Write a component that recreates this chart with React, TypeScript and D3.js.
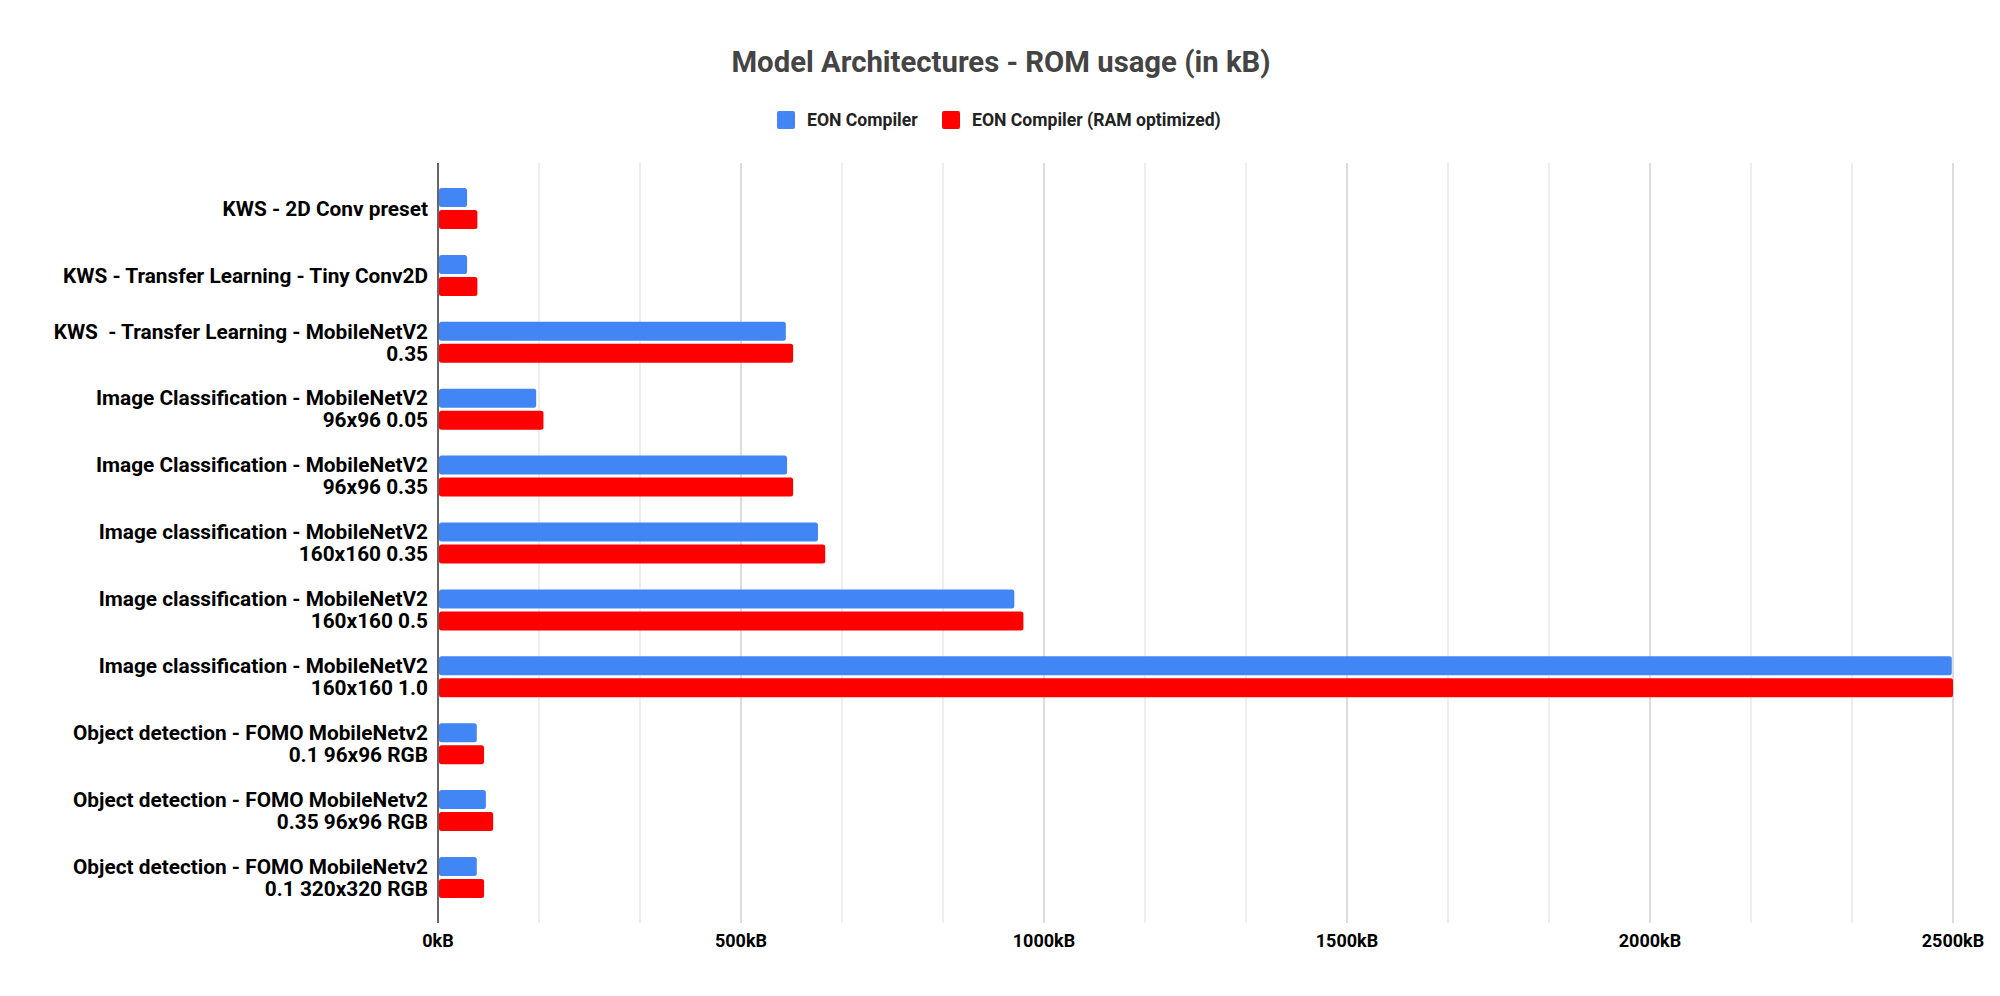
import { useEffect, useRef } from "react";
import * as d3 from "d3";

const categories: string[][] = [
  ["KWS - 2D Conv preset"],
  ["KWS - Transfer Learning - Tiny Conv2D"],
  ["KWS  - Transfer Learning - MobileNetV2", "0.35"],
  ["Image Classification - MobileNetV2", "96x96 0.05"],
  ["Image Classification - MobileNetV2", "96x96 0.35"],
  ["Image classification - MobileNetV2", "160x160 0.35"],
  ["Image classification - MobileNetV2", "160x160 0.5"],
  ["Image classification - MobileNetV2", "160x160 1.0"],
  ["Object detection - FOMO MobileNetv2", "0.1 96x96 RGB"],
  ["Object detection - FOMO MobileNetv2", "0.35 96x96 RGB"],
  ["Object detection - FOMO MobileNetv2", "0.1 320x320 RGB"],
];

const seriesNames = ["EON Compiler", "EON Compiler (RAM optimized)"];
const seriesColors = ["#4285f4", "#ff0000"];

const eonValues = [48, 48, 574, 162, 576, 627, 951, 2498, 64, 79, 64];
const eonRamValues = [65, 65, 586, 174, 586, 639, 966, 2500, 76, 91, 76];

const xTicks = [0, 500, 1000, 1500, 2000, 2500];

export default function App() {
  const ref = useRef<SVGSVGElement>(null);

  useEffect(() => {
    document.body.style.margin = "0";
    const svg = d3.select(ref.current);
    svg.selectAll("*").remove();

    const width = 2000;
    const height = 996;
    const left = 438;
    const right = 1953;
    const top = 163;
    const bottom = 923;
    const font = "Roboto, 'Noto Sans', sans-serif";

    svg.attr("width", width).attr("height", height);
    svg.append("rect").attr("width", width).attr("height", height).attr("fill", "#fff");

    const ids = categories.map((_, i) => String(i));
    const x = d3.scaleLinear().domain([0, 2500]).range([left, right]);
    const y0 = d3.scaleBand().domain(ids).range([top, bottom]).paddingOuter(0.18);
    const y1 = d3
      .scaleBand()
      .domain(seriesNames)
      .range([y0.bandwidth() / 2 - 20.5, y0.bandwidth() / 2 + 20.5])
      .paddingInner(0.136);

    // gridlines: major every 500kB, minor every third of that
    const grid = d3.range(0, 2501, 500 / 3);
    svg
      .append("g")
      .selectAll("line")
      .data(grid)
      .enter()
      .append("line")
      .attr("x1", (d) => x(d))
      .attr("x2", (d) => x(d))
      .attr("y1", top)
      .attr("y2", bottom)
      .attr("stroke", (d, i) => (i % 3 === 0 ? "#d0d0d0" : "#e8e8e8"))
      .attr("stroke-width", 1.5);

    // title
    svg
      .append("text")
      .attr("x", 1001)
      .attr("y", 72)
      .attr("text-anchor", "middle")
      .style("font-family", font)
      .style("font-weight", "bold")
      .style("font-size", "29.3px")
      .attr("fill", "#444")
      .text("Model Architectures - ROM usage (in kB)");

    // legend
    const legendX = [777, 942];
    const legend = svg
      .append("g")
      .selectAll("g")
      .data(seriesNames)
      .enter()
      .append("g")
      .attr("transform", (_, i) => `translate(${legendX[i]},111)`);
    legend
      .append("rect")
      .attr("width", 18)
      .attr("height", 18)
      .attr("rx", 2)
      .attr("fill", (_, i) => seriesColors[i]);
    legend
      .append("text")
      .attr("x", 30)
      .attr("y", 15)
      .style("font-family", font)
      .style("font-weight", "bold")
      .style("font-size", "17.6px")
      .attr("fill", "#222")
      .text((d) => d);

    // bars
    const rows = svg
      .append("g")
      .selectAll("g")
      .data(ids)
      .enter()
      .append("g")
      .attr("transform", (d) => `translate(0,${y0(d)})`);

    rows
      .selectAll("rect")
      .data((_, i) => [eonValues[i], eonRamValues[i]])
      .enter()
      .append("rect")
      .attr("x", x(0) + 1)
      .attr("y", (_, j) => y1(seriesNames[j])!)
      .attr("width", (d) => x(d) - x(0) - 1)
      .attr("height", y1.bandwidth())
      .attr("rx", 2.5)
      .attr("fill", (_, j) => seriesColors[j]);

    // category labels
    const lineH = 22;
    rows
      .append("text")
      .attr("text-anchor", "end")
      .style("font-family", font)
      .style("font-weight", "bold")
      .style("font-size", "20.8px")
      .style("white-space", "pre")
      .attr("fill", "#000")
      .each(function (_, i) {
        const lines = categories[i];
        const t = d3.select(this);
        const startY = y0.bandwidth() / 2 - ((lines.length - 1) * lineH) / 2;
        lines.forEach((ln, k) => {
          t.append("tspan")
            .attr("x", 428)
            .attr("y", startY + k * lineH)
            .attr("dy", "0.35em")
            .text(ln);
        });
      });

    // x axis labels
    svg
      .append("g")
      .selectAll("text")
      .data(xTicks)
      .enter()
      .append("text")
      .attr("x", (d) => x(d))
      .attr("y", 947)
      .attr("text-anchor", "middle")
      .style("font-family", font)
      .style("font-weight", "bold")
      .style("font-size", "18px")
      .attr("fill", "#000")
      .text((d) => `${d}kB`);

    // baseline
    svg
      .append("line")
      .attr("x1", x(0))
      .attr("x2", x(0))
      .attr("y1", top)
      .attr("y2", bottom)
      .attr("stroke", "#666")
      .attr("stroke-width", 2);
  }, []);

  return <svg ref={ref} style={{ display: "block" }}></svg>;
}
